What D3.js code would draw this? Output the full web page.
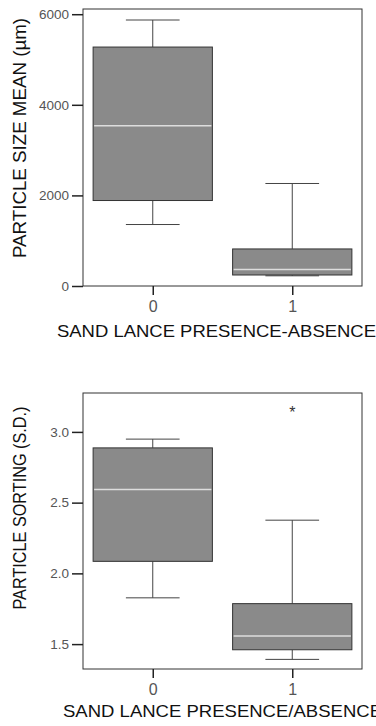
<!DOCTYPE html>
<html>
<head>
  <title>Sand lance boxplots</title>
  <style>
    body { margin: 0; background: #fff; }
    text { font-family: Arial, "Liberation Sans", sans-serif; }
    .tick text { fill: #555; }
    .tick line, .domain { stroke: #222; }
    .frame { fill: none; stroke: #333; stroke-width: 1px; }
    .box { fill: #8a8a8a; stroke: #333; stroke-width: 1px; }
    .whisker { stroke: #444; stroke-width: 1px; }
    .median { stroke: #ddd; stroke-width: 1.5px; }
  </style>
</head>
<body>
  <svg id="chart" width="376" height="726"></svg>

  <script src="https://d3js.org/d3.v7.min.js"></script>
  <script>
    // groups (sand lance absent / present)
    const groups = ["0", "1"];

    // particle size mean (µm)
    const sizeLow = [1357, 225];
    const sizeQ1 = [1887, 243];
    const sizeMedian = [3536, 362];
    const sizeQ3 = [5275, 818];
    const sizeHigh = [5872, 2263];
    const sizeOutliers = [];
    const sizeTicks = [0, 2000, 4000, 6000];

    // particle sorting (S.D.)
    const sortLow = [1.827, 1.392];
    const sortQ1 = [2.085, 1.46];
    const sortMedian = [2.592, 1.558];
    const sortQ3 = [2.887, 1.786];
    const sortHigh = [2.949, 2.376];
    const sortOutliers = [{ group: "1", value: 3.153 }];
    const sortTicks = [1.5, 2.0, 2.5, 3.0];

    const svg = d3.select("#chart");

    function drawPanel(opt) {
      const g = svg.append("g");
      const x = d3.scalePoint().domain(groups).range([opt.left, opt.right]).padding(0.5);
      const y = d3.scaleLinear().domain(opt.domain).range([opt.bottom, opt.top]);
      const step = x.step();
      const boxW = step * 0.855;
      const capW = step * 0.385;

      const rows = groups.map((k, i) => ({
        key: k, low: opt.low[i], q1: opt.q1[i], med: opt.median[i], q3: opt.q3[i], high: opt.high[i]
      }));

      // whiskers
      rows.forEach(d => {
        const cx = x(d.key);
        g.append("line").attr("class", "whisker")
          .attr("x1", cx).attr("x2", cx).attr("y1", y(d.high)).attr("y2", y(d.q3));
        g.append("line").attr("class", "whisker")
          .attr("x1", cx).attr("x2", cx).attr("y1", y(d.q1)).attr("y2", y(d.low));
        g.append("line").attr("class", "whisker")
          .attr("x1", cx - capW / 2).attr("x2", cx + capW / 2).attr("y1", y(d.high)).attr("y2", y(d.high));
        g.append("line").attr("class", "whisker")
          .attr("x1", cx - capW / 2).attr("x2", cx + capW / 2).attr("y1", y(d.low)).attr("y2", y(d.low));
      });

      // boxes
      g.selectAll(".box").data(rows).enter().append("rect")
        .attr("class", "box")
        .attr("x", d => x(d.key) - boxW / 2)
        .attr("width", boxW)
        .attr("y", d => y(d.q3))
        .attr("height", d => y(d.q1) - y(d.q3));

      g.selectAll(".median").data(rows).enter().append("line")
        .attr("class", "median")
        .attr("x1", d => x(d.key) - boxW / 2 + 1)
        .attr("x2", d => x(d.key) + boxW / 2 - 1)
        .attr("y1", d => y(d.med)).attr("y2", d => y(d.med));

      // outliers
      g.selectAll(".outlier").data(opt.outliers).enter().append("text")
        .attr("x", d => x(d.group))
        .attr("y", d => y(d.value) + 8)
        .attr("text-anchor", "middle")
        .style("font-size", "16px")
        .style("fill", "#333")
        .text("*");

      // frame
      g.append("rect").attr("class", "frame")
        .attr("x", opt.left).attr("y", opt.top)
        .attr("width", opt.right - opt.left).attr("height", opt.bottom - opt.top);

      // axes
      g.append("g")
        .attr("transform", `translate(${opt.left},0)`)
        .call(d3.axisLeft(y).tickValues(opt.ticks).tickFormat(opt.fmt).tickSize(11).tickPadding(3))
        .call(a => a.select(".domain").remove())
        .call(a => a.selectAll("text").style("font-size", "13.5px"));

      g.append("g")
        .attr("transform", `translate(0,${opt.bottom})`)
        .call(d3.axisBottom(x).tickSize(9).tickPadding(6))
        .call(a => a.select(".domain").remove())
        .call(a => a.selectAll("text").style("font-size", "16px"));

      g.selectAll(".tick line").attr("stroke-width", 1.5);

      // axis titles
      g.append("text")
        .attr("transform", `translate(26,${opt.ylabelY}) rotate(-90)`)
        .attr("text-anchor", "middle")
        .attr("textLength", opt.ylabelLen)
        .attr("lengthAdjust", "spacingAndGlyphs")
        .style("font-size", "18px")
        .style("fill", "#111")
        .text(opt.ylabel);

      g.append("text")
        .attr("x", opt.xlabelX)
        .attr("y", opt.xlabelY)
        .attr("textLength", 319)
        .attr("lengthAdjust", "spacingAndGlyphs")
        .style("font-size", "17px")
        .style("fill", "#111")
        .text(opt.xlabel);
    }

    drawPanel({
      left: 83, right: 362, top: 9, bottom: 286,
      domain: [0, 6115],
      low: sizeLow, q1: sizeQ1, median: sizeMedian, q3: sizeQ3, high: sizeHigh,
      outliers: sizeOutliers, ticks: sizeTicks, fmt: d3.format("d"),
      ylabel: "PARTICLE SIZE MEAN (µm)", ylabelY: 138, ylabelLen: 240,
      xlabel: "SAND LANCE PRESENCE-ABSENCE", xlabelX: 57, xlabelY: 337
    });

    drawPanel({
      left: 83, right: 362, top: 393, bottom: 669,
      domain: [1.324, 3.275],
      low: sortLow, q1: sortQ1, median: sortMedian, q3: sortQ3, high: sortHigh,
      outliers: sortOutliers, ticks: sortTicks, fmt: d3.format(".1f"),
      ylabel: "PARTICLE SORTING (S.D.)", ylabelY: 508, ylabelLen: 203,
      xlabel: "SAND LANCE PRESENCE/ABSENCE", xlabelX: 63, xlabelY: 717
    });
  </script>
</body>
</html>
